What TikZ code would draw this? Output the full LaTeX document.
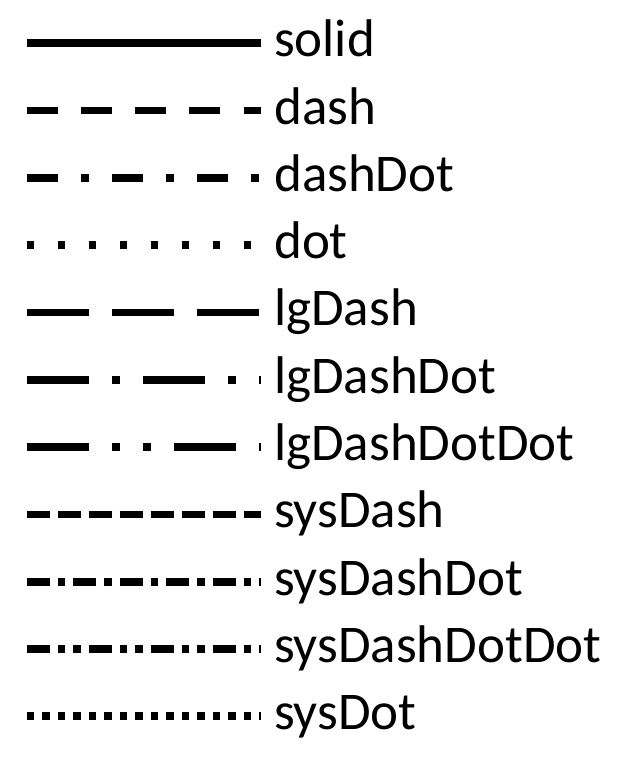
\documentclass[tikz,border=0pt]{standalone}
\usepackage{fontspec}
\setmainfont{Carlito}
\newlength{\lnw}
\setlength{\lnw}{7.75pt}
\tikzset{
  ls solid/.style={solid},
  ls dash/.style={dash pattern=on 4\lnw off 3\lnw},
  ls dashDot/.style={dash pattern=on 4\lnw off 3\lnw on \lnw off 3\lnw},
  ls dot/.style={dash pattern=on \lnw off 3\lnw},
  ls lgDash/.style={dash pattern=on 8\lnw off 3\lnw},
  ls lgDashDot/.style={dash pattern=on 8\lnw off 3\lnw on \lnw off 3\lnw},
  ls lgDashDotDot/.style={dash pattern=on 8\lnw off 3\lnw on \lnw off 3\lnw on \lnw off 3\lnw},
  ls sysDash/.style={dash pattern=on 3\lnw off \lnw},
  ls sysDashDot/.style={dash pattern=on 3\lnw off \lnw on \lnw off \lnw},
  ls sysDashDotDot/.style={dash pattern=on 3\lnw off \lnw on \lnw off \lnw on \lnw off \lnw},
  ls sysDot/.style={dash pattern=on \lnw off \lnw}
}
\begin{document}
\begin{tikzpicture}[
  x=1pt,y=-1pt,
  sample/.style={line width=\lnw,line cap=butt,draw=black},
  stylename/.style={anchor=base west,inner sep=0pt,font=\fontsize{53}{60}\selectfont}
]
  \useasboundingbox (0,0) rectangle (627,760);

  % one row per line style
  \foreach \nm [count=\i from 0] in {solid,dash,dashDot,dot,lgDash,lgDashDot,
      lgDashDotDot,sysDash,sysDashDot,sysDashDotDot,sysDot} {
    \pgfmathsetmacro{\y}{43.3+67.3*\i}
    \coordinate (s-\nm) at (26.7,\y);
    \coordinate (e-\nm) at (261,\y);
    \draw[sample,ls \nm] (s-\nm) -- (e-\nm);
    \node[stylename] (lbl-\nm) at (274,\y+13.4) {\nm};
  }
\end{tikzpicture}
\end{document}
